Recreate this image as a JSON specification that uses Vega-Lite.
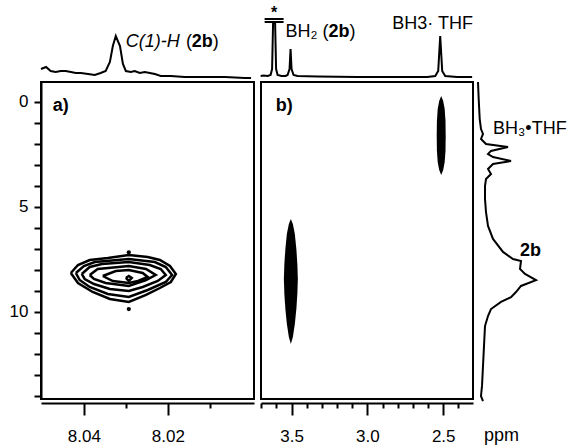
{
  "$schema": "https://vega.github.io/schema/vega-lite/v6.json",
  "padding": {"left": 8, "top": 5, "right": 0, "bottom": 0},
  "columns": 3,
  "align": "each",
  "bounds": "flush",
  "spacing": {"row": 3, "column": 7},
  "resolve": {"scale": {"x": "independent", "y": "independent"}},
  "config": {
    "font": "Liberation Sans",
    "view": {"stroke": "black", "strokeWidth": 2},
    "axis": {"grid": false, "domainColor": "black", "domainWidth": 2, "tickColor": "black", "tickWidth": 2, "labelColor": "black", "labelFont": "Liberation Sans", "labelFontSize": 17, "labelOverlap": false, "labelFlush": false, "labelBound": false},
    "text": {"font": "Liberation Sans", "fontSize": 18, "align": "left", "baseline": "middle", "color": "black"}
  },
  "datasets": {
    "specA": [
      {"x": 8.0502, "y": 10}, {"x": 8.0490, "y": 12}, {"x": 8.0479, "y": 8}, {"x": 8.0467, "y": 7}, {"x": 8.0455, "y": 8},
      {"x": 8.0443, "y": 8}, {"x": 8.0431, "y": 7}, {"x": 8.0419, "y": 6}, {"x": 8.0407, "y": 6}, {"x": 8.0390, "y": 5},
      {"x": 8.0374, "y": 4}, {"x": 8.0360, "y": 6}, {"x": 8.0348, "y": 8}, {"x": 8.0338, "y": 17}, {"x": 8.0331, "y": 33},
      {"x": 8.0324, "y": 43}, {"x": 8.0314, "y": 33}, {"x": 8.0307, "y": 15}, {"x": 8.0300, "y": 8}, {"x": 8.0288, "y": 7},
      {"x": 8.0279, "y": 8}, {"x": 8.0267, "y": 6}, {"x": 8.0255, "y": 7}, {"x": 8.0243, "y": 6}, {"x": 8.0231, "y": 5},
      {"x": 8.0217, "y": 3}, {"x": 8.0193, "y": 3}, {"x": 8.0160, "y": 2}, {"x": 8.0112, "y": 2}, {"x": 8.0064, "y": 2},
      {"x": 8.0017, "y": 1}, {"x": 8.0002, "y": 1}
    ],
    "labA": [
      {"x": 8.0300, "y": 37, "t": "C(1)-H", "s": "i"},
      {"x": 8.0157, "y": 37, "t": "(", "s": "n"},
      {"x": 8.0143, "y": 37, "t": "2b", "s": "b"},
      {"x": 8.0093, "y": 37, "t": ")", "s": "n"}
    ],
    "specB": [
      {"x": 3.7039, "y": 3}, {"x": 3.6842, "y": 3.5}, {"x": 3.6579, "y": 3}, {"x": 3.6382, "y": 4}, {"x": 3.6283, "y": 10},
      {"x": 3.6217, "y": 57}, {"x": 3.6086, "y": 57}, {"x": 3.6020, "y": 10}, {"x": 3.5921, "y": 4}, {"x": 3.5658, "y": 3},
      {"x": 3.5395, "y": 3}, {"x": 3.5263, "y": 4}, {"x": 3.5132, "y": 10}, {"x": 3.5066, "y": 30}, {"x": 3.5000, "y": 10},
      {"x": 3.4868, "y": 4}, {"x": 3.4605, "y": 3}, {"x": 3.3289, "y": 2.5}, {"x": 3.0658, "y": 2}, {"x": 2.8026, "y": 2},
      {"x": 2.6053, "y": 2}, {"x": 2.5526, "y": 3}, {"x": 2.5329, "y": 8}, {"x": 2.5197, "y": 43}, {"x": 2.5066, "y": 8},
      {"x": 2.4868, "y": 3}, {"x": 2.4079, "y": 2}, {"x": 2.3092, "y": 2}
    ],
    "barsB": [
      {"x": 3.6776, "xr": 3.5526, "y": 60},
      {"x": 3.6776, "xr": 3.5526, "y": 57}
    ],
    "labB": [
      {"x": 3.6151, "y": 66, "t": "*", "s": "c"},
      {"x": 3.5395, "y": 47, "t": "BH₂ (", "s": "n"},
      {"x": 3.2566, "y": 47, "t": "2b", "s": "b"},
      {"x": 3.1184, "y": 47, "t": ")", "s": "n"},
      {"x": 2.8355, "y": 55, "t": "BH3· THF", "s": "n"}
    ],
    "contours": [
      {"c": 1, "i": 1, "x": 8.0431, "y": 8.143}, {"c": 1, "i": 2, "x": 8.0414, "y": 7.762}, {"c": 1, "i": 3, "x": 8.0386, "y": 7.524},
      {"c": 1, "i": 4, "x": 8.0343, "y": 7.429}, {"c": 1, "i": 5, "x": 8.0293, "y": 7.286}, {"c": 1, "i": 6, "x": 8.0248, "y": 7.381},
      {"c": 1, "i": 7, "x": 8.0219, "y": 7.524}, {"c": 1, "i": 8, "x": 8.0195, "y": 7.810}, {"c": 1, "i": 9, "x": 8.0181, "y": 8.190},
      {"c": 1, "i": 10, "x": 8.0193, "y": 8.571}, {"c": 1, "i": 11, "x": 8.0219, "y": 8.857}, {"c": 1, "i": 12, "x": 8.0252, "y": 9.190},
      {"c": 1, "i": 13, "x": 8.0293, "y": 9.524}, {"c": 1, "i": 14, "x": 8.0338, "y": 9.381}, {"c": 1, "i": 15, "x": 8.0379, "y": 9.048},
      {"c": 1, "i": 16, "x": 8.0414, "y": 8.619}, {"c": 1, "i": 17, "x": 8.0431, "y": 8.143},
      {"c": 2, "i": 1, "x": 8.0419, "y": 8.143}, {"c": 2, "i": 2, "x": 8.0400, "y": 7.810}, {"c": 2, "i": 3, "x": 8.0374, "y": 7.619},
      {"c": 2, "i": 4, "x": 8.0293, "y": 7.476}, {"c": 2, "i": 5, "x": 8.0231, "y": 7.619}, {"c": 2, "i": 6, "x": 8.0205, "y": 7.857},
      {"c": 2, "i": 7, "x": 8.0190, "y": 8.238}, {"c": 2, "i": 8, "x": 8.0205, "y": 8.571}, {"c": 2, "i": 9, "x": 8.0248, "y": 8.952},
      {"c": 2, "i": 10, "x": 8.0293, "y": 9.286}, {"c": 2, "i": 11, "x": 8.0343, "y": 9.143}, {"c": 2, "i": 12, "x": 8.0386, "y": 8.810},
      {"c": 2, "i": 13, "x": 8.0410, "y": 8.476}, {"c": 2, "i": 14, "x": 8.0419, "y": 8.143},
      {"c": 3, "i": 1, "x": 8.0405, "y": 8.190}, {"c": 3, "i": 2, "x": 8.0386, "y": 7.857}, {"c": 3, "i": 3, "x": 8.0357, "y": 7.714},
      {"c": 3, "i": 4, "x": 8.0293, "y": 7.619}, {"c": 3, "i": 5, "x": 8.0243, "y": 7.762}, {"c": 3, "i": 6, "x": 8.0217, "y": 7.952},
      {"c": 3, "i": 7, "x": 8.0205, "y": 8.238}, {"c": 3, "i": 8, "x": 8.0224, "y": 8.524}, {"c": 3, "i": 9, "x": 8.0260, "y": 8.810},
      {"c": 3, "i": 10, "x": 8.0293, "y": 9.000}, {"c": 3, "i": 11, "x": 8.0338, "y": 8.905}, {"c": 3, "i": 12, "x": 8.0376, "y": 8.667},
      {"c": 3, "i": 13, "x": 8.0398, "y": 8.429}, {"c": 3, "i": 14, "x": 8.0405, "y": 8.190},
      {"c": 4, "i": 1, "x": 8.0386, "y": 8.238}, {"c": 4, "i": 2, "x": 8.0367, "y": 7.952}, {"c": 4, "i": 3, "x": 8.0293, "y": 7.810},
      {"c": 4, "i": 4, "x": 8.0252, "y": 7.952}, {"c": 4, "i": 5, "x": 8.0229, "y": 8.238}, {"c": 4, "i": 6, "x": 8.0252, "y": 8.476},
      {"c": 4, "i": 7, "x": 8.0293, "y": 8.762}, {"c": 4, "i": 8, "x": 8.0348, "y": 8.619}, {"c": 4, "i": 9, "x": 8.0376, "y": 8.429},
      {"c": 4, "i": 10, "x": 8.0386, "y": 8.238},
      {"c": 5, "i": 1, "x": 8.0355, "y": 8.286}, {"c": 5, "i": 2, "x": 8.0324, "y": 8.048}, {"c": 5, "i": 3, "x": 8.0293, "y": 8.000},
      {"c": 5, "i": 4, "x": 8.0260, "y": 8.143}, {"c": 5, "i": 5, "x": 8.0248, "y": 8.333}, {"c": 5, "i": 6, "x": 8.0271, "y": 8.524},
      {"c": 5, "i": 7, "x": 8.0293, "y": 8.619}, {"c": 5, "i": 8, "x": 8.0331, "y": 8.524}, {"c": 5, "i": 9, "x": 8.0355, "y": 8.286},
      {"c": 6, "i": 1, "x": 8.0300, "y": 8.381}, {"c": 6, "i": 2, "x": 8.0293, "y": 8.286}, {"c": 6, "i": 3, "x": 8.0286, "y": 8.381},
      {"c": 6, "i": 4, "x": 8.0293, "y": 8.524}, {"c": 6, "i": 5, "x": 8.0300, "y": 8.381}
    ],
    "dotsA": [
      {"x": 8.0293, "y": 7.16},
      {"x": 8.0293, "y": 9.86}
    ],
    "labPA": [{"x": 8.0474, "y": 0.21, "t": "a)"}],
    "ellipses": [
      {"e": 1, "y": 5.571, "x": 3.5046, "xr": 3.5046},
      {"e": 1, "y": 5.810, "x": 3.5178, "xr": 3.4914},
      {"e": 1, "y": 6.286, "x": 3.5309, "xr": 3.4783},
      {"e": 1, "y": 7.000, "x": 3.5408, "xr": 3.4684},
      {"e": 1, "y": 7.714, "x": 3.5474, "xr": 3.4618},
      {"e": 1, "y": 8.429, "x": 3.5507, "xr": 3.4585},
      {"e": 1, "y": 9.143, "x": 3.5474, "xr": 3.4618},
      {"e": 1, "y": 9.857, "x": 3.5408, "xr": 3.4684},
      {"e": 1, "y": 10.571, "x": 3.5309, "xr": 3.4783},
      {"e": 1, "y": 11.190, "x": 3.5178, "xr": 3.4914},
      {"e": 1, "y": 11.524, "x": 3.5046, "xr": 3.5046},
      {"e": 2, "y": -0.286, "x": 2.5132, "xr": 2.5132},
      {"e": 2, "y": -0.048, "x": 2.5264, "xr": 2.5000},
      {"e": 2, "y": 0.333, "x": 2.5362, "xr": 2.4902},
      {"e": 2, "y": 0.905, "x": 2.5415, "xr": 2.4849},
      {"e": 2, "y": 1.619, "x": 2.5428, "xr": 2.4836},
      {"e": 2, "y": 2.333, "x": 2.5415, "xr": 2.4849},
      {"e": 2, "y": 2.857, "x": 2.5362, "xr": 2.4902},
      {"e": 2, "y": 3.238, "x": 2.5264, "xr": 2.5000},
      {"e": 2, "y": 3.476, "x": 2.5132, "xr": 2.5132}
    ],
    "labPB": [{"x": 3.605, "y": 0.21, "t": "b)"}],
    "specR": [
      {"y": -0.95, "x": -2}, {"y": -0.14, "x": -1.3}, {"y": 0.81, "x": -0.3}, {"y": 1.29, "x": 1}, {"y": 1.52, "x": 3},
      {"y": 1.76, "x": 1}, {"y": 2.0, "x": 6}, {"y": 2.14, "x": 28}, {"y": 2.33, "x": 11}, {"y": 2.48, "x": 8},
      {"y": 2.62, "x": 13}, {"y": 2.81, "x": 31}, {"y": 2.95, "x": 13}, {"y": 3.19, "x": 8}, {"y": 3.43, "x": 11},
      {"y": 3.67, "x": 6}, {"y": 4.0, "x": 5}, {"y": 4.62, "x": 5}, {"y": 5.24, "x": 6}, {"y": 5.9, "x": 8},
      {"y": 6.52, "x": 13}, {"y": 7.14, "x": 23}, {"y": 7.48, "x": 33}, {"y": 7.57, "x": 41}, {"y": 7.95, "x": 40},
      {"y": 8.19, "x": 45}, {"y": 8.48, "x": 56}, {"y": 8.76, "x": 41}, {"y": 9.05, "x": 36}, {"y": 9.29, "x": 31},
      {"y": 9.52, "x": 21}, {"y": 9.86, "x": 11}, {"y": 10.19, "x": 8}, {"y": 10.67, "x": 5}, {"y": 11.62, "x": 4},
      {"y": 12.57, "x": 3}, {"y": 13.52, "x": 2}, {"y": 14.0, "x": 1}, {"y": 14.24, "x": 3}
    ],
    "labR": [
      {"x": 13, "y": 1.29, "t": "BH₃•THF", "s": "n"},
      {"x": 40, "y": 7.1, "t": "2b", "s": "b"},
      {"x": 4, "y": 15.9, "t": "ppm", "s": "n"}
    ]
  },
  "concat": [
    {
      "width": 213, "height": 70, "view": {"stroke": null},
      "encoding": {
        "x": {"field": "x", "type": "quantitative", "scale": {"domain": [7.9995, 8.0502], "reverse": true, "nice": false, "zero": false}, "axis": null},
        "y": {"field": "y", "type": "quantitative", "scale": {"domain": [0, 70], "nice": false, "zero": false}, "axis": null}
      },
      "layer": [
        {"data": {"name": "specA"}, "mark": {"type": "line", "color": "black", "strokeWidth": 2}},
        {"data": {"name": "labA"}, "transform": [{"filter": "datum.s == 'i'"}], "mark": {"type": "text", "fontStyle": "italic"}, "encoding": {"text": {"field": "t"}}},
        {"data": {"name": "labA"}, "transform": [{"filter": "datum.s == 'n'"}], "mark": {"type": "text"}, "encoding": {"text": {"field": "t"}}},
        {"data": {"name": "labA"}, "transform": [{"filter": "datum.s == 'b'"}], "mark": {"type": "text", "fontWeight": "bold"}, "encoding": {"text": {"field": "t"}}}
      ]
    },
    {
      "width": 212, "height": 70, "view": {"stroke": null},
      "encoding": {
        "x": {"field": "x", "type": "quantitative", "scale": {"domain": [2.3035, 3.7015], "reverse": true, "nice": false, "zero": false}, "axis": null},
        "y": {"field": "y", "type": "quantitative", "scale": {"domain": [0, 70], "nice": false, "zero": false}, "axis": null}
      },
      "layer": [
        {"data": {"name": "specB"}, "mark": {"type": "line", "color": "black", "strokeWidth": 2}},
        {"data": {"name": "barsB"}, "mark": {"type": "rule", "color": "black", "strokeWidth": 2}, "encoding": {"x2": {"field": "xr"}}},
        {"data": {"name": "labB"}, "transform": [{"filter": "datum.s == 'c'"}], "mark": {"type": "text", "align": "center", "fontSize": 16, "fontWeight": "bold"}, "encoding": {"text": {"field": "t"}}},
        {"data": {"name": "labB"}, "transform": [{"filter": "datum.s == 'n'"}], "mark": {"type": "text"}, "encoding": {"text": {"field": "t"}}},
        {"data": {"name": "labB"}, "transform": [{"filter": "datum.s == 'b'"}], "mark": {"type": "text", "fontWeight": "bold"}, "encoding": {"text": {"field": "t"}}}
      ]
    },
    {
      "width": 60, "height": 70, "view": {"stroke": null},
      "data": {"values": [{"t": ""}]},
      "mark": {"type": "text"},
      "encoding": {"text": {"field": "t"}}
    },
    {
      "width": 213, "height": 317,
      "encoding": {
        "x": {"field": "x", "type": "quantitative", "scale": {"domain": [7.9995, 8.0502], "reverse": true, "nice": false, "zero": false},
          "axis": {"title": null, "values": [8.04, 8.03, 8.02, 8.01], "offset": 4, "labelPadding": 13,
            "tickSize": {"condition": {"test": "abs(datum.value-8.04)<0.001 || abs(datum.value-8.02)<0.001", "value": 12}, "value": 5},
            "labelExpr": "abs(datum.value-8.04)<0.001 || abs(datum.value-8.02)<0.001 ? format(datum.value, '.2f') : ''"}},
        "y": {"field": "y", "type": "quantitative", "scale": {"domain": [-0.952, 14.143], "reverse": true, "nice": false, "zero": false},
          "axis": {"title": null, "values": [0, 1, 2, 3, 4, 5, 6, 7, 8, 9, 10, 11, 12, 13, 14], "tickSize": 7, "labelPadding": 6,
            "labelExpr": "datum.value % 5 == 0 ? datum.label : ''"}}
      },
      "layer": [
        {"data": {"name": "contours"}, "mark": {"type": "line", "color": "black", "strokeWidth": 2.5}, "encoding": {"order": {"field": "i", "type": "quantitative"}, "detail": {"field": "c"}}},
        {"data": {"name": "dotsA"}, "mark": {"type": "point", "shape": "circle", "filled": true, "opacity": 1, "color": "black", "size": 18}},
        {"data": {"name": "labPA"}, "mark": {"type": "text", "fontWeight": "bold"}, "encoding": {"text": {"field": "t"}}}
      ]
    },
    {
      "width": 212, "height": 317,
      "encoding": {
        "x": {"field": "x", "type": "quantitative", "scale": {"domain": [2.3035, 3.7015], "reverse": true, "nice": false, "zero": false},
          "axis": {"title": null, "values": [3.7, 3.6, 3.5, 3.4, 3.3, 3.2, 3.1, 3.0, 2.9, 2.8, 2.7, 2.6, 2.5, 2.4], "offset": 4, "labelPadding": 13,
            "tickSize": {"condition": {"test": "abs(datum.value*2 - round(datum.value*2)) < 0.01", "value": 12}, "value": 5},
            "labelExpr": "abs(datum.value*2 - round(datum.value*2)) < 0.01 ? format(datum.value, '.1f') : ''"}},
        "y": {"field": "y", "type": "quantitative", "scale": {"domain": [-0.952, 14.143], "reverse": true, "nice": false, "zero": false}, "axis": null}
      },
      "layer": [
        {"data": {"name": "ellipses"}, "mark": {"type": "area", "orient": "horizontal", "color": "black", "opacity": 1}, "encoding": {"x2": {"field": "xr"}, "detail": {"field": "e"}}},
        {"data": {"name": "labPB"}, "mark": {"type": "text", "fontWeight": "bold"}, "encoding": {"text": {"field": "t"}}}
      ]
    },
    {
      "width": 60, "height": 317, "view": {"stroke": null},
      "encoding": {
        "x": {"field": "x", "type": "quantitative", "scale": {"domain": [0, 60], "nice": false, "zero": false}, "axis": null},
        "y": {"field": "y", "type": "quantitative", "scale": {"domain": [-0.952, 14.143], "reverse": true, "nice": false, "zero": false}, "axis": null}
      },
      "layer": [
        {"data": {"name": "specR"}, "mark": {"type": "line", "color": "black", "strokeWidth": 2}, "encoding": {"order": {"field": "y", "type": "quantitative"}}},
        {"data": {"name": "labR"}, "transform": [{"filter": "datum.s == 'n'"}], "mark": {"type": "text"}, "encoding": {"text": {"field": "t"}}},
        {"data": {"name": "labR"}, "transform": [{"filter": "datum.s == 'b'"}], "mark": {"type": "text", "fontWeight": "bold"}, "encoding": {"text": {"field": "t"}}}
      ]
    }
  ]
}
